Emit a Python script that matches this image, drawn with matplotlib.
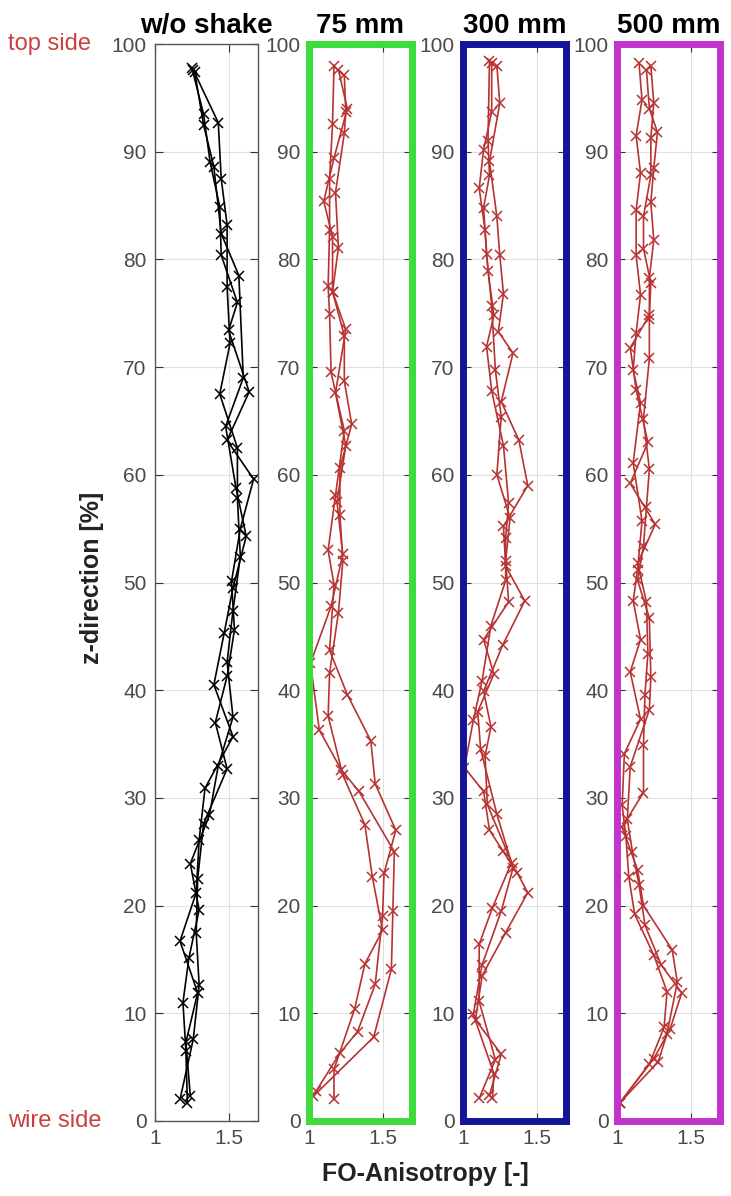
import matplotlib
matplotlib.use("Agg")
import matplotlib.pyplot as plt

plt.rcParams["font.family"] = ["Liberation Sans", "DejaVu Sans"]

# panel titles and frame colours
titles = ["w/o shake", "75 mm", "300 mm", "500 mm"]
frame_colors = ["#555555", "#3ddc3d", "#14149a", "#c233cc"]

# w/o shake: z-position [%] and FO-anisotropy, three samples
wo_z1 = [97.6, 92.7, 87.5, 83.2, 77.4, 72.2, 67.5, 62.5, 57.8, 52.4, 47.4, 42.6, 37.5, 33.0, 28.4, 23.9, 19.6, 15.1, 11.0, 6.5, 1.7]
wo_a1 = [1.26, 1.43, 1.45, 1.49, 1.49, 1.51, 1.44, 1.56, 1.56, 1.58, 1.53, 1.49, 1.53, 1.43, 1.37, 1.24, 1.30, 1.23, 1.19, 1.21, 1.22]
wo_z2 = [97.8, 93.5, 89.0, 84.9, 80.4, 76.0, 73.4, 67.7, 63.2, 59.6, 55.0, 50.1, 45.6, 41.3, 37.0, 32.7, 27.6, 22.5, 17.5, 12.6, 7.6, 2.0]
wo_a2 = [1.25, 1.33, 1.375, 1.44, 1.45, 1.56, 1.50, 1.64, 1.49, 1.67, 1.58, 1.52, 1.54, 1.49, 1.41, 1.49, 1.33, 1.29, 1.28, 1.30, 1.26, 1.17]
wo_z3 = [97.4, 92.5, 88.6, 82.4, 78.5, 69.0, 64.5, 58.8, 54.3, 49.5, 45.3, 40.5, 35.7, 30.9, 26.1, 21.2, 16.7, 11.9, 7.3, 2.3]
wo_a3 = [1.27, 1.33, 1.40, 1.45, 1.57, 1.60, 1.48, 1.55, 1.62, 1.53, 1.47, 1.40, 1.53, 1.34, 1.30, 1.28, 1.17, 1.29, 1.21, 1.24]

# 75 mm
s75_z1 = [97.1, 93.7, 91.7, 86.2, 81.1, 77.0, 72.9, 68.7, 64.7, 60.6, 56.3, 52.0, 47.2, 41.6, 37.6, 32.1, 27.5, 22.7, 17.7, 14.6, 10.4, 4.8, 2.0]
s75_a1 = [1.24, 1.25, 1.24, 1.18, 1.20, 1.16, 1.24, 1.24, 1.29, 1.21, 1.21, 1.23, 1.20, 1.14, 1.13, 1.23, 1.38, 1.43, 1.50, 1.38, 1.31, 1.17, 1.17]
s75_z2 = [98.0, 92.6, 87.5, 82.7, 77.5, 74.9, 69.5, 64.1, 58.1, 53.0, 49.8, 43.7, 39.6, 35.3, 31.3, 27.0, 23.0, 19.0, 12.7, 8.3, 6.3, 2.8]
s75_a2 = [1.17, 1.16, 1.14, 1.14, 1.13, 1.14, 1.15, 1.24, 1.18, 1.13, 1.17, 1.14, 1.26, 1.42, 1.45, 1.59, 1.51, 1.50, 1.45, 1.33, 1.21, 1.05]
s75_z3 = [97.6, 94.0, 89.4, 85.4, 82.1, 77.0, 73.5, 67.6, 62.7, 57.5, 52.6, 47.8, 42.5, 36.3, 32.6, 30.6, 25.0, 19.5, 14.1, 7.8, 2.3]
s75_a3 = [1.20, 1.26, 1.17, 1.10, 1.16, 1.16, 1.25, 1.18, 1.25, 1.19, 1.23, 1.15, 1.01, 1.07, 1.22, 1.34, 1.58, 1.57, 1.56, 1.44, 1.03]

# 300 mm
s300_z1 = [98.2, 93.7, 90.2, 86.6, 82.7, 78.9, 74.8, 71.9, 67.8, 62.7, 57.4, 54.1, 50.2, 46.0, 40.9, 37.2, 32.8, 30.6, 27.0, 25.1, 23.0, 21.2, 17.5, 13.5, 9.4, 6.2, 2.4]
s300_a1 = [1.195, 1.195, 1.14, 1.11, 1.15, 1.17, 1.21, 1.16, 1.195, 1.275, 1.31, 1.29, 1.29, 1.19, 1.13, 1.07, 1.01, 1.14, 1.18, 1.27, 1.37, 1.44, 1.29, 1.13, 1.085, 1.26, 1.18]
s300_z2 = [98.0, 94.5, 89.1, 84.0, 80.4, 76.8, 73.3, 71.3, 66.8, 63.2, 59.0, 55.2, 51.5, 48.3, 44.2, 39.9, 36.6, 33.9, 29.4, 24.0, 19.8, 16.4, 11.1, 5.7, 2.1]
s300_a2 = [1.23, 1.25, 1.18, 1.23, 1.25, 1.275, 1.24, 1.34, 1.26, 1.38, 1.44, 1.275, 1.29, 1.42, 1.27, 1.14, 1.19, 1.15, 1.165, 1.33, 1.20, 1.11, 1.11, 1.22, 1.11]
s300_z3 = [98.4, 91.0, 87.8, 84.8, 80.5, 75.7, 69.7, 65.4, 60.0, 56.0, 52.0, 48.2, 44.7, 41.5, 38.0, 34.5, 28.5, 23.5, 19.5, 14.5, 9.9, 4.4, 2.1]
s300_a3 = [1.18, 1.17, 1.18, 1.14, 1.16, 1.195, 1.22, 1.26, 1.23, 1.32, 1.29, 1.31, 1.14, 1.21, 1.10, 1.12, 1.23, 1.34, 1.26, 1.13, 1.07, 1.21, 1.20]

# 500 mm
s500_z1 = [98.2, 94.8, 91.5, 88.0, 84.6, 80.4, 76.7, 73.2, 69.7, 66.7, 61.1, 55.7, 51.2, 48.3, 44.7, 41.7, 37.3, 34.1, 29.3, 26.5, 22.7, 19.2, 15.4, 12.0, 8.7, 5.3, 1.7]
s500_a1 = [1.15, 1.17, 1.13, 1.16, 1.13, 1.13, 1.16, 1.13, 1.11, 1.16, 1.11, 1.17, 1.14, 1.11, 1.16, 1.09, 1.16, 1.05, 1.035, 1.06, 1.08, 1.12, 1.25, 1.34, 1.32, 1.22, 1.02]
s500_z2 = [98.0, 94.5, 91.3, 87.8, 84.0, 81.0, 77.8, 74.8, 71.8, 67.9, 63.0, 59.2, 55.4, 51.8, 48.2, 43.4, 39.6, 34.9, 30.5, 27.3, 23.3, 20.0, 15.9, 12.9, 8.1, 5.5, 1.7]
s500_a2 = [1.23, 1.25, 1.23, 1.23, 1.18, 1.18, 1.23, 1.22, 1.09, 1.13, 1.21, 1.09, 1.26, 1.14, 1.20, 1.21, 1.19, 1.18, 1.18, 1.035, 1.14, 1.18, 1.375, 1.41, 1.34, 1.28, 1.02]
s500_z3 = [97.6, 94.0, 91.8, 88.5, 85.3, 81.8, 78.3, 74.5, 70.8, 65.2, 60.5, 57.0, 53.4, 50.2, 46.7, 41.2, 38.2, 32.9, 28.0, 25.0, 21.9, 18.2, 14.5, 11.9, 8.5, 5.8, 1.7]
s500_a3 = [1.20, 1.22, 1.275, 1.25, 1.23, 1.25, 1.22, 1.22, 1.22, 1.18, 1.22, 1.20, 1.18, 1.14, 1.22, 1.23, 1.22, 1.09, 1.07, 1.105, 1.15, 1.19, 1.30, 1.44, 1.36, 1.25, 1.02]

panels = [
    [(wo_a1, wo_z1), (wo_a2, wo_z2), (wo_a3, wo_z3)],
    [(s75_a1, s75_z1), (s75_a2, s75_z2), (s75_a3, s75_z3)],
    [(s300_a1, s300_z1), (s300_a2, s300_z2), (s300_a3, s300_z3)],
    [(s500_a1, s500_z1), (s500_a2, s500_z2), (s500_a3, s500_z3)],
]
line_colors = ["black", "#b83232", "#b83232", "#b83232"]

fig = plt.figure(figsize=(7.31, 11.96), dpi=100)

lefts = [155, 309, 463, 617]
for i, left in enumerate(lefts):
    ax = fig.add_axes([left / 731, 75 / 1196, 103 / 731, 1077 / 1196])
    for fo, z in panels[i]:
        ax.plot(fo, z, color=line_colors[i], lw=1.2, marker="x", ms=7, mew=1.1)

    ax.set_xlim(1, 1.7)
    ax.set_ylim(0, 100)
    ax.set_xticks([1, 1.5])
    ax.set_xticklabels(["1", "1.5"])
    ax.set_yticks(range(0, 101, 10))
    ax.grid(True, color="#e0e0e0", lw=0.8)
    ax.set_axisbelow(True)
    ax.tick_params(direction="in", length=6, width=0.8, color="#333333",
                   labelsize=15, labelcolor="#4a4a4a",
                   top=True, right=True, pad=6)
    ax.set_title(titles[i], fontsize=20, fontweight="bold", pad=8)

    for sp in ax.spines.values():
        sp.set_color(frame_colors[i])
        sp.set_linewidth(1.0 if i == 0 else 5)

fig.text(92 / 731, 1 - 578 / 1196, "z-direction [%]", rotation=90,
         fontsize=18, fontweight="bold", color="#222222", ha="center", va="center")
fig.text(425 / 731, 1 - 1174 / 1196, "FO-Anisotropy [-]",
         fontsize=18, fontweight="bold", color="#222222", ha="center", va="center")
fig.text(50 / 731, 1 - 44 / 1196, "top side", fontsize=17, color="#c84040",
         ha="center", va="center")
fig.text(55 / 731, 1 - 1121 / 1196, "wire side", fontsize=17, color="#c84040",
         ha="center", va="center")

fig.savefig("out.png", dpi=100)
